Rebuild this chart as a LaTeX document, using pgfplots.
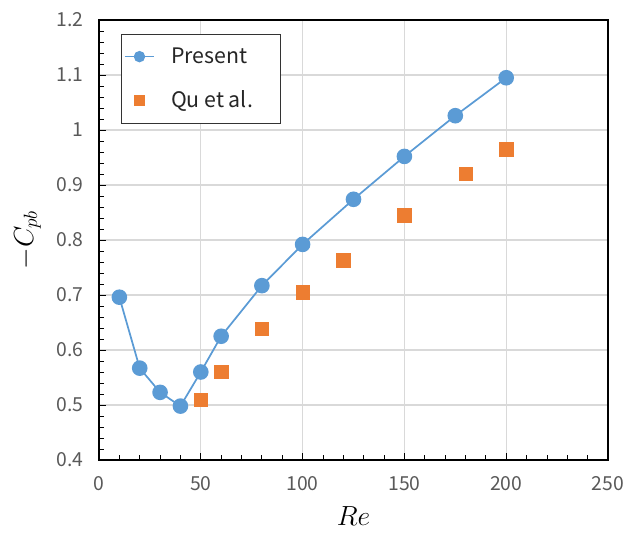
\documentclass[border=0pt]{standalone}
\usepackage{fontspec}
\setmainfont{Noto Sans CJK JP}
\usepackage{pgfplots}
\pgfplotsset{compat=1.18}
\definecolor{cblue}{HTML}{5B9BD5}
\definecolor{corange}{HTML}{ED7D31}
\definecolor{tgray}{HTML}{595959}
\begin{document}
\begin{tikzpicture}[x=0.75pt,y=0.75pt]
\begin{axis}[
  scale only axis,
  width=381.75pt, height=330pt,
  xmin=0, xmax=250, ymin=0.4, ymax=1.2,
  xtick={0,50,...,250},
  ytick={0.4,0.5,...,1.2},
  minor x tick num=4,
  minor y tick num=4,
  tick pos=left,
  tick align=inside,
  major tick length=5pt,
  minor tick length=4pt,
  grid=major,
  major grid style={draw=black!15, line width=0.8pt},
  axis line style={line width=1pt, black},
  tick style={black, line width=0.6pt},
  /pgf/number format/assume math mode=true,
  yticklabel style={/pgf/number format/fixed, /pgf/number format/precision=1, font=\fontsize{14.5}{16}\selectfont, text=tgray, xshift=-8pt},
  xticklabel style={font=\fontsize{14.5}{16}\selectfont, text=tgray, yshift=-9pt},
  xlabel={$Re$},
  ylabel={$-C_{pb}$},
  xlabel style={font=\fontsize{20}{24}\selectfont, yshift=-5pt},
  ylabel style={font=\fontsize{20}{24}\selectfont, yshift=5pt},
  legend style={at={(0.043,0.968)}, anchor=north west, draw=black!80, line width=0.6pt,
    font=\fontsize{16}{18}\selectfont, text=black!85, row sep=15pt, inner xsep=2pt, inner ysep=8pt},
  legend cell align=left,
  legend image code/.code={
    \draw[#1, mark repeat=2, mark phase=2] plot coordinates {(0pt,0pt) (11pt,0pt) (22pt,0pt)};
  },
]
\addplot[cblue, line width=1.3pt, mark=*, mark size=5.2pt, mark options={fill=cblue, draw=cblue},
  legend image post style={mark size=3.6pt}] coordinates {
(10,0.696) (20,0.567) (30,0.523) (40,0.498) (50,0.560) (60,0.625) (80,0.717) (100,0.792) (125,0.874) (150,0.952) (175,1.026) (200,1.095)
};
\addlegendentry{\hspace{10pt}\makebox[78pt][l]{Present}}
\addplot[only marks, mark=square*, mark size=5pt, mark options={fill=corange, draw=corange},
  legend image post style={mark size=4pt}] coordinates {
(50,0.510) (60,0.560) (80,0.639) (100,0.705) (120,0.763) (150,0.845) (180,0.920) (200,0.965)
};
\addlegendentry{\hspace{10pt}\makebox[78pt][l]{Qu et al.}}
\end{axis}
\pgfresetboundingbox
\path (current axis.south west) ++(-74.25pt,-55.5pt) coordinate (bl);
\path (current axis.north east) ++(14.25pt,15pt) coordinate (tr);
\path[use as bounding box] (bl) rectangle (tr);
\end{tikzpicture}
\end{document}
